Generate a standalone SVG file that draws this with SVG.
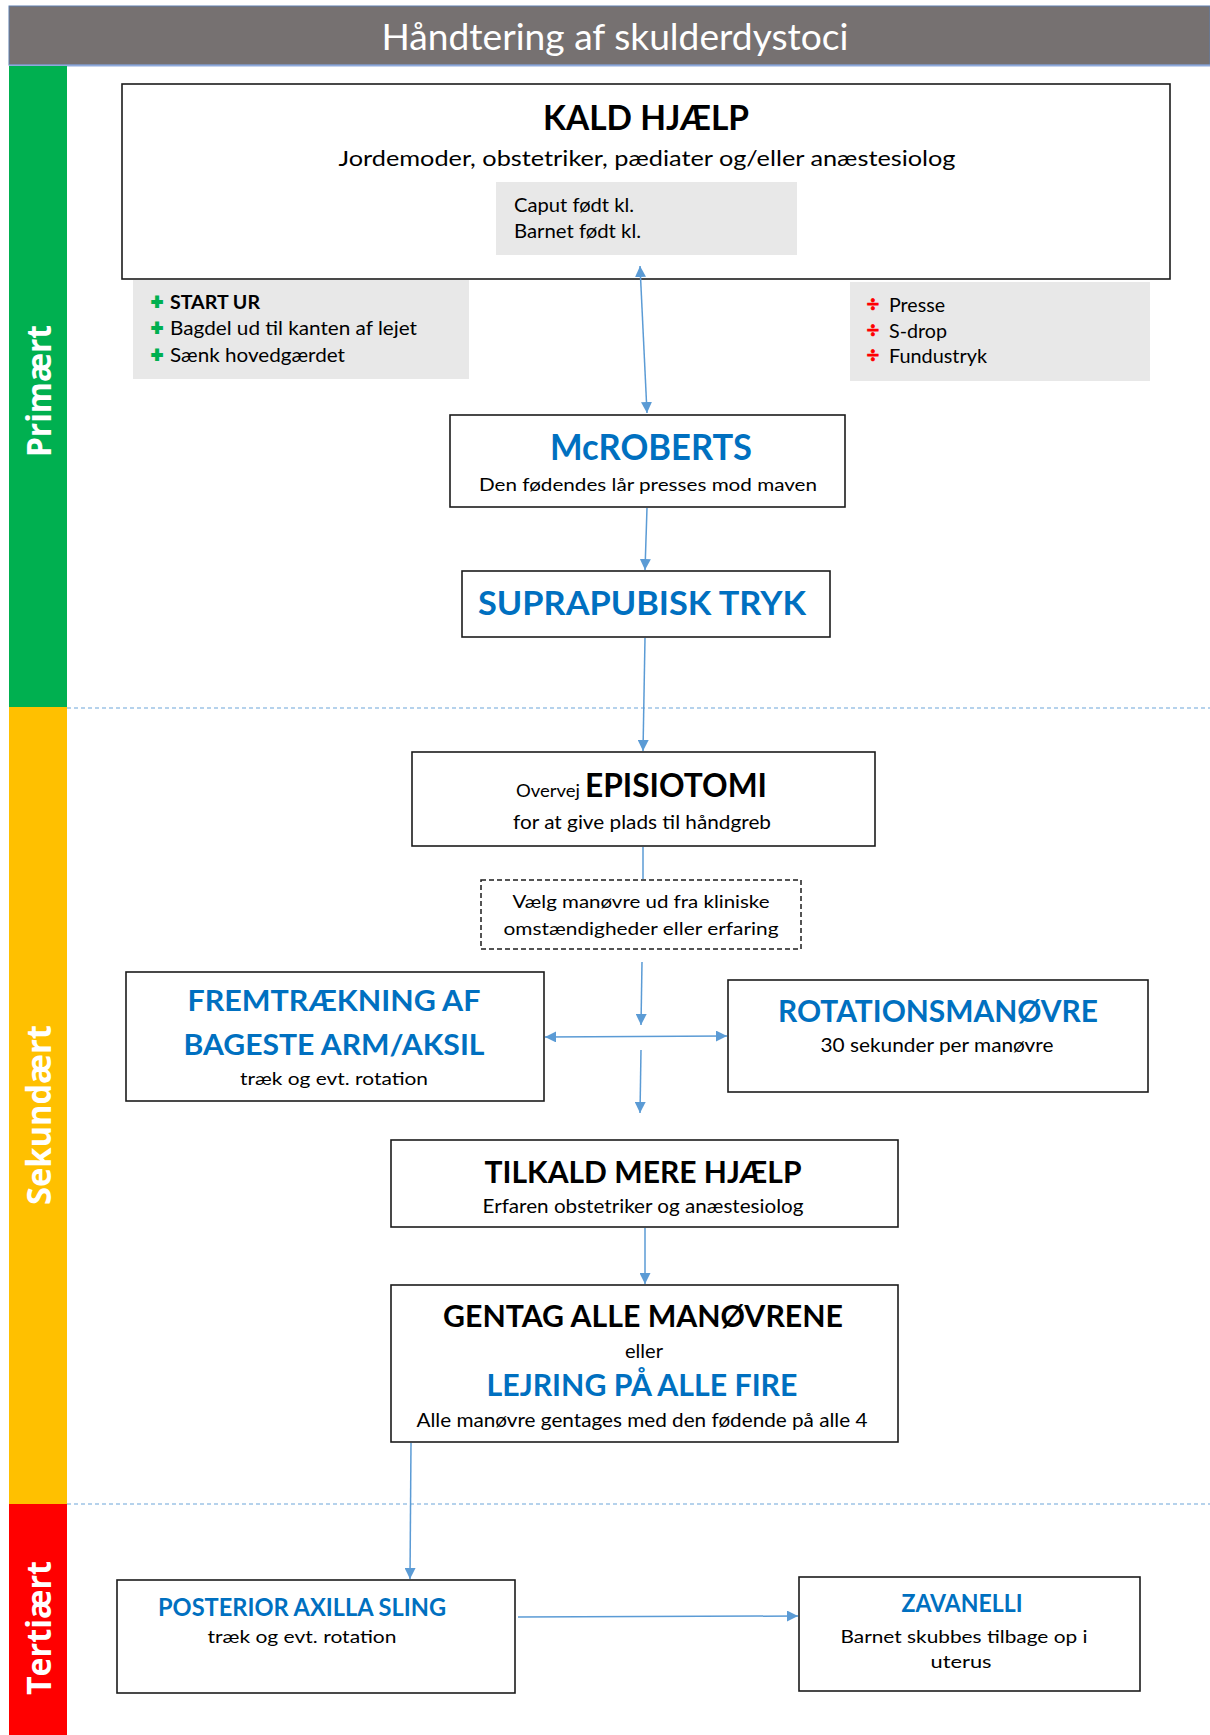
<svg xmlns="http://www.w3.org/2000/svg" width="1210" height="1735" viewBox="0 0 1210 1735">
<defs>
<marker id="ah" viewBox="0 0 10 10" refX="10" refY="5" markerWidth="11" markerHeight="11" markerUnits="userSpaceOnUse" orient="auto-start-reverse">
<path d="M0,0 L10,5 L0,10 z" fill="#5B9BD5"/>
</marker>
<style>
.box{fill:#ffffff;stroke:#1c1c1c;stroke-width:1.6}
.gray{fill:#E8E8E8;stroke:none}
.conn{stroke:#5B9BD5;stroke-width:1.5;fill:none}
.sep{stroke:#9DC3E6;stroke-width:1.5;stroke-dasharray:4 3;fill:none}
.t{font-family:Lato,"Liberation Sans",sans-serif;fill:#000}
.b{font-weight:bold}
.blue{fill:#0070C0}
.c{text-anchor:middle}
.plus{font-family:Lato,"Liberation Sans",sans-serif;font-weight:bold;font-size:20px;text-anchor:middle;fill:#00B050;stroke:#00B050;stroke-width:2}
.div{font-family:Lato,"Liberation Sans",sans-serif;font-weight:bold;font-size:22px;text-anchor:middle;fill:#FF0000;stroke:#FF0000;stroke-width:0.7}
.side{font-family:"Open Sans","Liberation Sans",sans-serif;font-weight:bold;fill:#fff;font-size:34px;text-anchor:middle}
</style>
</defs>
<rect width="1210" height="1735" fill="#ffffff"/>

<g id="title">
<rect x="9" y="6" width="1201" height="59" fill="#767171" stroke="#5F7FAE" stroke-width="1"/>
<line x1="9" y1="65.5" x2="1210" y2="65.5" stroke="#8FAADC" stroke-width="2"/>
<text class="t c" x="615" y="50" font-size="36" style="fill:#fff" textLength="467" lengthAdjust="spacingAndGlyphs">Håndtering af skulderdystoci</text>
</g>

<g id="bands">
<rect x="9" y="66" width="58" height="641" fill="#00B050"/>
<rect x="9" y="707" width="58" height="797" fill="#FFC000"/>
<rect x="9" y="1504" width="58" height="231" fill="#FF0000"/>
<text class="side" transform="translate(51,391) rotate(-90)" textLength="132" lengthAdjust="spacingAndGlyphs">Primært</text>
<text class="side" transform="translate(51,1115) rotate(-90)" textLength="180" lengthAdjust="spacingAndGlyphs">Sekundært</text>
<text class="side" transform="translate(51,1628) rotate(-90)" textLength="134" lengthAdjust="spacingAndGlyphs">Tertiært</text>
</g>

<g id="separators">
<line class="sep" x1="67" y1="708" x2="1210" y2="708"/>
<line class="sep" x1="67" y1="1504" x2="1210" y2="1504"/>
</g>

<g id="kald-hjaelp">
<rect class="box" x="122" y="84" width="1048" height="195"/>
<text class="t b c" x="646" y="130" font-size="35" textLength="206" lengthAdjust="spacingAndGlyphs">KALD HJÆLP</text>
<text class="t c" x="647" y="166" font-size="22" textLength="617" lengthAdjust="spacingAndGlyphs">Jordemoder, obstetriker, pædiater og/eller anæstesiolog</text>
<rect class="gray" x="496" y="182" width="301" height="73"/>
<text class="t" x="514" y="212" font-size="19" textLength="120" lengthAdjust="spacingAndGlyphs">Caput født kl.</text>
<text class="t" x="514" y="238" font-size="19" textLength="127" lengthAdjust="spacingAndGlyphs">Barnet født kl.</text>
</g>

<g id="do-list">
<rect class="gray" x="133" y="280" width="336" height="99"/>
<text class="plus" x="157" y="309">+</text>
<text class="t b" x="170" y="309" font-size="19" textLength="90" lengthAdjust="spacingAndGlyphs">START UR</text>
<text class="plus" x="157" y="335">+</text>
<text class="t" x="170" y="335" font-size="19" textLength="247" lengthAdjust="spacingAndGlyphs">Bagdel ud til kanten af lejet</text>
<text class="plus" x="157" y="362">+</text>
<text class="t" x="170" y="362" font-size="19" textLength="175" lengthAdjust="spacingAndGlyphs">Sænk hovedgærdet</text>
</g>

<g id="dont-list">
<rect class="gray" x="850" y="282" width="300" height="99"/>
<text class="div" x="873" y="312">÷</text>
<text class="t" x="889" y="312" font-size="19" textLength="56" lengthAdjust="spacingAndGlyphs">Presse</text>
<text class="div" x="873" y="338">÷</text>
<text class="t" x="889" y="338" font-size="19" textLength="58" lengthAdjust="spacingAndGlyphs">S-drop</text>
<text class="div" x="873" y="363">÷</text>
<text class="t" x="889" y="363" font-size="19" textLength="98" lengthAdjust="spacingAndGlyphs">Fundustryk</text>
</g>

<g id="mcroberts">
<rect class="box" x="450" y="415" width="395" height="92"/>
<text class="t b c blue" x="651" y="460" font-size="37" textLength="202" lengthAdjust="spacingAndGlyphs">McROBERTS</text>
<text class="t c" x="648" y="491" font-size="18" textLength="338" lengthAdjust="spacingAndGlyphs">Den fødendes lår presses mod maven</text>
</g>

<g id="suprapubisk">
<rect class="box" x="462" y="571" width="368" height="66"/>
<text class="t b c blue" x="642" y="615" font-size="32" textLength="328" lengthAdjust="spacingAndGlyphs">SUPRAPUBISK TRYK</text>
</g>

<g id="episiotomi">
<rect class="box" x="412" y="752" width="463" height="94"/>
<text class="t" x="516" y="797" font-size="17" textLength="64" lengthAdjust="spacingAndGlyphs">Overvej</text>
<text class="t b" x="585" y="797" font-size="33" textLength="182" lengthAdjust="spacingAndGlyphs">EPISIOTOMI</text>
<text class="t c" x="642" y="829" font-size="19" textLength="258" lengthAdjust="spacingAndGlyphs">for at give plads til håndgreb</text>
</g>

<g id="vaelg">
<rect x="481" y="880" width="320" height="69" fill="#ffffff" stroke="#1c1c1c" stroke-width="1.5" stroke-dasharray="5 3"/>
<text class="t c" x="641" y="908" font-size="18" textLength="257" lengthAdjust="spacingAndGlyphs">Vælg manøvre ud fra kliniske</text>
<text class="t c" x="641" y="935" font-size="18" textLength="275" lengthAdjust="spacingAndGlyphs">omstændigheder eller erfaring</text>
</g>

<g id="fremtraekning">
<rect class="box" x="126" y="972" width="418" height="129"/>
<text class="t b c blue" x="334" y="1011" font-size="28" textLength="293" lengthAdjust="spacingAndGlyphs">FREMTRÆKNING  AF</text>
<text class="t b c blue" x="334" y="1055" font-size="28" textLength="301" lengthAdjust="spacingAndGlyphs">BAGESTE ARM/AKSIL</text>
<text class="t c" x="334" y="1085" font-size="18" textLength="188" lengthAdjust="spacingAndGlyphs">træk og evt. rotation</text>
</g>

<g id="rotation">
<rect class="box" x="728" y="980" width="420" height="112"/>
<text class="t b c blue" x="938" y="1022" font-size="30" textLength="320" lengthAdjust="spacingAndGlyphs">ROTATIONSMANØVRE</text>
<text class="t c" x="937" y="1052" font-size="19" textLength="233" lengthAdjust="spacingAndGlyphs">30 sekunder per manøvre</text>
</g>

<g id="tilkald">
<rect class="box" x="391" y="1140" width="507" height="87"/>
<text class="t b c" x="643" y="1183" font-size="30" textLength="317" lengthAdjust="spacingAndGlyphs">TILKALD MERE HJÆLP</text>
<text class="t c" x="643" y="1213" font-size="20" textLength="321" lengthAdjust="spacingAndGlyphs">Erfaren obstetriker og anæstesiolog</text>
</g>

<g id="gentag">
<rect class="box" x="391" y="1285" width="507" height="157"/>
<text class="t b c" x="643" y="1327" font-size="30" textLength="400" lengthAdjust="spacingAndGlyphs">GENTAG ALLE MANØVRENE</text>
<text class="t c" x="644" y="1358" font-size="19" textLength="38" lengthAdjust="spacingAndGlyphs">eller</text>
<text class="t b c blue" x="642" y="1396" font-size="30" textLength="311" lengthAdjust="spacingAndGlyphs">LEJRING PÅ ALLE FIRE</text>
<text class="t c" x="642" y="1427" font-size="20" textLength="451" lengthAdjust="spacingAndGlyphs">Alle manøvre gentages med den fødende på alle 4</text>
</g>

<g id="posterior">
<rect class="box" x="117" y="1580" width="398" height="113"/>
<text class="t b c blue" x="302" y="1616" font-size="24" textLength="288" lengthAdjust="spacingAndGlyphs">POSTERIOR AXILLA SLING</text>
<text class="t c" x="302" y="1643" font-size="18" textLength="189" lengthAdjust="spacingAndGlyphs">træk og evt. rotation</text>
</g>

<g id="zavanelli">
<rect class="box" x="799" y="1577" width="341" height="114"/>
<text class="t b c blue" x="962" y="1612" font-size="24" textLength="121" lengthAdjust="spacingAndGlyphs">ZAVANELLI</text>
<text class="t c" x="964" y="1643" font-size="18" textLength="247" lengthAdjust="spacingAndGlyphs">Barnet skubbes tilbage op i</text>
<text class="t c" x="961" y="1668" font-size="18" textLength="61" lengthAdjust="spacingAndGlyphs">uterus</text>
</g>

<g id="connectors">
<line class="conn" x1="640" y1="266" x2="647" y2="413" marker-start="url(#ah)" marker-end="url(#ah)"/>
<line class="conn" x1="647" y1="508" x2="645" y2="570" marker-end="url(#ah)"/>
<line class="conn" x1="645" y1="638" x2="643" y2="751" marker-end="url(#ah)"/>
<line class="conn" x1="643" y1="847" x2="643" y2="879"/>
<line class="conn" x1="642" y1="962" x2="641" y2="1025" marker-end="url(#ah)"/>
<line class="conn" x1="545" y1="1037" x2="727" y2="1036" marker-start="url(#ah)" marker-end="url(#ah)"/>
<line class="conn" x1="641" y1="1050" x2="640" y2="1113" marker-end="url(#ah)"/>
<line class="conn" x1="645" y1="1228" x2="645" y2="1284" marker-end="url(#ah)"/>
<line class="conn" x1="411" y1="1443" x2="410" y2="1579" marker-end="url(#ah)"/>
<line class="conn" x1="518" y1="1617" x2="798" y2="1616" marker-end="url(#ah)"/>
</g>
</svg>
